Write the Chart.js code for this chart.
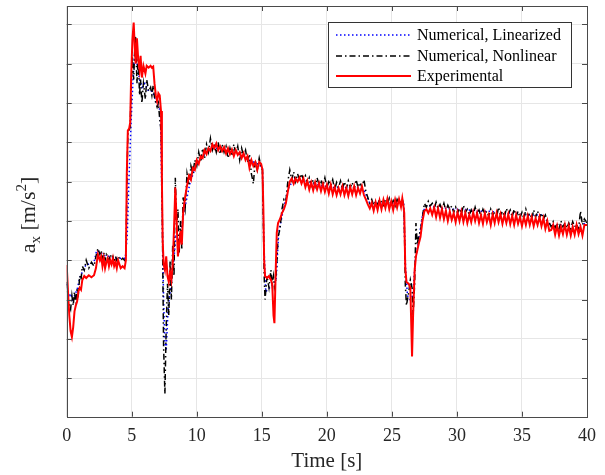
<!DOCTYPE html>
<html>
<head>
<meta charset="utf-8">
<script src="https://cdn.jsdelivr.net/npm/chart.js@4.4.0/dist/chart.umd.min.js"></script>
<style>
  html, body { margin: 0; padding: 0; background: #fff; }
  #wrap { width: 605px; height: 475px; }
</style>
</head>
<body>
<div id="wrap"><canvas id="chart" width="605" height="475"></canvas></div>
<script>
// time grid shared by the experimental and nonlinear runs [s]
const time = [
  0.00, 0.10, 0.20, 0.30, 0.40, 0.50, 0.60, 0.70, 0.80, 0.90,
  1.00, 1.10, 1.20, 1.35, 1.50, 1.70, 1.90, 2.10, 2.25, 2.40,
  2.55, 2.65, 2.75, 2.85, 2.95, 3.05, 3.15, 3.25, 3.35, 3.45,
  3.55, 3.65, 3.75, 3.85, 3.95, 4.05, 4.15, 4.30, 4.45, 4.55,
  4.62, 4.70, 4.80, 4.88, 4.95, 5.05, 5.15, 5.22, 5.30, 5.40,
  5.50, 5.60, 5.68, 5.78, 5.90, 6.05, 6.15, 6.30, 6.45, 6.55,
  6.65, 6.75, 6.85, 6.95, 7.05, 7.15, 7.25, 7.32, 7.38, 7.45,
  7.55, 7.65, 7.75, 7.85, 7.95, 8.05, 8.15, 8.25, 8.35, 8.45,
  8.55, 8.65, 8.75, 8.85, 8.95, 9.10, 9.25, 9.40, 9.55, 9.70,
  9.85, 10.00, 10.15, 10.30, 10.45, 10.60, 10.75, 10.90, 11.05, 11.20,
  11.35, 11.50, 11.65, 11.80, 11.95, 12.10, 12.25, 12.40, 12.55, 12.70,
  12.85, 13.00, 13.15, 13.30, 13.45, 13.60, 13.75, 13.90, 14.05, 14.20,
  14.35, 14.50, 14.65, 14.80, 14.95, 15.05, 15.12, 15.18, 15.25, 15.40,
  15.55, 15.70, 15.80, 15.90, 15.97, 16.05, 16.15, 16.25, 16.40, 16.55,
  16.70, 16.85, 17.00, 17.15, 17.30, 17.45, 17.60, 17.75, 17.90, 18.05,
  18.20, 18.35, 18.50, 18.65, 18.80, 18.95, 19.10, 19.25, 19.40, 19.55,
  19.70, 19.85, 20.00, 20.15, 20.30, 20.45, 20.60, 20.75, 20.90, 21.05,
  21.20, 21.35, 21.50, 21.65, 21.80, 21.95, 22.10, 22.25, 22.40, 22.55,
  22.70, 22.85, 23.00, 23.15, 23.30, 23.45, 23.60, 23.75, 23.90, 24.05,
  24.20, 24.35, 24.50, 24.65, 24.80, 24.95, 25.10, 25.25, 25.40, 25.55,
  25.70, 25.80, 25.88, 25.95, 26.03, 26.12, 26.30, 26.42, 26.55, 26.63,
  26.75, 26.85, 26.95, 27.05, 27.20, 27.35, 27.50, 27.65, 27.80, 27.95,
  28.10, 28.25, 28.40, 28.55, 28.70, 28.85, 29.00, 29.15, 29.30, 29.45,
  29.60, 29.75, 29.90, 30.05, 30.20, 30.35, 30.50, 30.65, 30.80, 30.95,
  31.10, 31.25, 31.40, 31.55, 31.70, 31.85, 32.00, 32.15, 32.30, 32.45,
  32.60, 32.75, 32.90, 33.05, 33.20, 33.35, 33.50, 33.65, 33.80, 33.95,
  34.10, 34.25, 34.40, 34.55, 34.70, 34.85, 35.00, 35.15, 35.30, 35.45,
  35.60, 35.75, 35.90, 36.05, 36.20, 36.35, 36.50, 36.65, 36.80, 36.95,
  37.10, 37.25, 37.40, 37.55, 37.70, 37.85, 38.00, 38.15, 38.30, 38.45,
  38.60, 38.75, 38.90, 39.05, 39.20, 39.35, 39.50, 39.65, 39.80, 40.00
];

const accExp = [
  2.88, 2.20, 1.60, 1.20, 1.05, 1.30, 1.70, 1.85, 1.95, 2.20,
  2.30, 2.25, 2.50, 2.60, 2.55, 2.62, 2.57, 2.62, 2.80, 3.15,
  3.00, 3.10, 2.85, 3.05, 2.80, 2.95, 3.05, 2.85, 3.00, 2.90,
  3.05, 2.85, 2.95, 2.80, 3.00, 2.90, 2.80, 2.85, 2.80, 3.00,
  5.20, 6.30, 6.35, 6.50, 7.60, 8.60, 9.05, 8.50, 8.00, 8.65,
  8.10, 7.85, 8.20, 7.65, 7.95, 7.75, 7.95, 7.90, 7.95, 7.90,
  7.93, 7.50, 7.20, 7.05, 7.25, 7.20, 6.80, 5.00, 3.50, 2.90,
  2.75, 3.10, 2.60, 2.45, 2.70, 2.50, 2.90, 3.80, 4.85, 4.00,
  3.10, 3.40, 3.75, 3.40, 4.20, 4.60, 4.90, 5.15, 5.05, 5.35,
  5.30, 5.55, 5.45, 5.65, 5.60, 5.80, 5.70, 5.85, 5.78, 5.95,
  5.85, 5.97, 5.80, 5.90, 5.78, 5.88, 5.72, 5.85, 5.70, 5.82,
  5.65, 5.80, 5.68, 5.75, 5.60, 5.72, 5.55, 5.65, 5.35, 5.55,
  5.40, 5.50, 5.30, 5.50, 5.45, 5.30, 4.30, 3.00, 2.60, 2.55,
  2.60, 2.50, 2.40, 1.60, 1.40, 2.50, 3.70, 3.95, 4.05, 4.20,
  4.30, 4.45, 4.75, 5.00, 5.08, 4.95, 5.08, 5.00, 5.10, 4.95,
  5.08, 4.86, 5.02, 4.80, 4.98, 4.78, 4.98, 4.80, 4.96, 4.76,
  4.94, 4.74, 4.92, 4.70, 4.92, 4.68, 4.86, 4.66, 4.84, 4.68,
  4.88, 4.66, 4.84, 4.64, 4.86, 4.68, 4.88, 4.66, 4.84, 4.70,
  4.88, 4.66, 4.55, 4.42, 4.32, 4.46, 4.26, 4.48, 4.28, 4.52,
  4.30, 4.54, 4.33, 4.56, 4.30, 4.50, 4.28, 4.54, 4.34, 4.56,
  4.36, 4.58, 4.40, 4.20, 2.80, 2.45, 2.40, 2.30, 0.55, 1.60,
  2.75, 3.10, 3.25, 3.40, 3.60, 4.00, 4.25, 4.30, 4.20, 4.32,
  4.16, 4.34, 4.10, 4.32, 4.08, 4.30, 4.05, 4.26, 4.00, 4.24,
  4.03, 4.20, 3.97, 4.22, 4.00, 4.24, 3.98, 4.20, 3.95, 4.16,
  3.97, 4.22, 4.00, 4.20, 3.95, 4.15, 3.93, 4.20, 3.97, 4.15,
  3.90, 4.17, 3.95, 4.20, 3.97, 4.17, 3.93, 4.15, 3.95, 4.17,
  3.92, 4.13, 3.90, 4.15, 3.93, 4.10, 3.87, 4.10, 3.90, 4.13,
  3.90, 4.10, 3.87, 4.07, 3.90, 4.10, 3.87, 4.07, 3.80, 4.00,
  3.75, 3.77, 3.90, 3.65, 3.87, 3.63, 3.85, 3.67, 3.90, 3.65,
  3.87, 3.63, 3.85, 3.65, 3.90, 3.67, 3.85, 3.63, 3.90, 3.90
];

const accNonlin = [
  2.45, 2.00, 1.85, 1.75, 2.10, 1.85, 2.20, 1.90, 2.30, 2.15,
  2.60, 2.50, 2.85, 2.75, 3.00, 2.80, 2.95, 2.85, 3.10, 3.30,
  3.15, 3.25, 3.05, 3.20, 3.00, 3.15, 3.10, 3.00, 3.15, 3.05,
  3.10, 2.95, 3.10, 3.00, 3.10, 3.05, 3.00, 3.05, 3.00, 3.10,
  4.60, 6.20, 6.30, 6.40, 7.30, 8.20, 7.60, 8.30, 8.70, 7.50,
  8.20, 7.20, 7.60, 7.00, 7.50, 7.10, 7.60, 7.30, 7.40, 7.20,
  7.45, 7.15, 7.00, 6.90, 7.00, 6.60, 6.30, 5.50, 3.00, 0.80,
  -0.40, 1.30, 2.40, 1.60, 3.00, 2.00, 3.40, 2.60, 5.10, 3.90,
  4.30, 3.20, 4.00, 3.30, 4.60, 4.30, 5.20, 4.90, 5.40, 5.20,
  5.55, 5.40, 5.75, 5.50, 5.85, 5.60, 5.95, 5.75, 6.10, 5.80,
  5.95, 5.75, 6.00, 5.70, 5.95, 5.75, 5.90, 5.60, 5.85, 5.65,
  5.95, 5.70, 5.90, 5.55, 5.85, 5.65, 5.80, 5.50, 5.70, 5.20,
  4.95, 5.55, 5.30, 5.60, 5.35, 5.30, 4.00, 2.60, 2.00, 2.60,
  2.30, 2.75, 2.40, 2.60, 2.30, 2.40, 2.90, 3.60, 3.80, 4.30,
  4.55, 4.50, 5.00, 5.30, 5.05, 5.25, 5.00, 5.20, 5.05, 5.20,
  5.05, 5.15, 4.95, 5.10, 4.90, 5.05, 4.88, 5.10, 4.92, 5.05,
  4.88, 5.10, 4.85, 5.00, 4.90, 5.05, 4.80, 4.98, 4.85, 5.02,
  4.80, 5.00, 4.82, 5.02, 4.85, 4.98, 4.80, 5.05, 4.85, 4.98,
  4.85, 5.05, 4.75, 4.60, 4.45, 4.55, 4.40, 4.50, 4.42, 4.55,
  4.48, 4.40, 4.55, 4.42, 4.58, 4.40, 4.52, 4.38, 4.55, 4.45,
  4.50, 4.55, 4.45, 4.10, 2.40, 1.85, 2.20, 2.50, 2.30, 1.60,
  2.40, 3.95, 3.40, 3.60, 3.75, 4.10, 4.45, 4.35, 4.50, 4.38,
  4.45, 4.30, 4.48, 4.32, 4.42, 4.28, 4.45, 4.25, 4.40, 4.30,
  4.38, 4.22, 4.35, 4.20, 4.32, 4.18, 4.40, 4.22, 4.30, 4.15,
  4.28, 4.15, 4.35, 4.18, 4.28, 4.12, 4.30, 4.18, 4.25, 4.12,
  4.30, 4.15, 4.22, 4.10, 4.35, 4.15, 4.25, 4.10, 4.32, 4.18,
  4.28, 4.10, 4.30, 4.12, 4.25, 4.08, 4.22, 4.05, 4.30, 4.12,
  4.20, 4.05, 4.28, 4.10, 4.25, 4.08, 4.20, 4.05, 4.15, 4.00,
  3.95, 3.85, 3.98, 3.82, 3.95, 3.80, 4.00, 3.85, 3.95, 3.82,
  3.95, 3.80, 3.98, 3.85, 3.92, 3.80, 4.25, 3.90, 4.05, 3.95
];

// linearized model, coarser grid
const timeLin = [
  0.00, 0.15, 0.30, 0.45, 0.60, 0.80, 1.00, 1.20, 1.50, 1.80,
  2.10, 2.30, 2.60, 3.00, 3.40, 3.80, 4.20, 4.50, 4.65, 4.80,
  4.95, 5.10, 5.25, 5.40, 5.60, 5.80, 6.00, 6.30, 6.60, 6.90,
  7.20, 7.35, 7.45, 7.55, 7.65, 7.80, 8.00, 8.20, 8.40, 8.70,
  9.00, 9.50, 10.0, 11.0, 12.0, 13.0, 14.0, 14.7, 15.05, 15.15,
  15.30, 15.60, 15.90, 16.10, 16.30, 16.60, 17.0, 17.5, 18.5, 19.5,
  20.5, 21.5, 22.5, 22.9, 23.3, 24.0, 25.0, 25.9, 26.05, 26.2,
  26.4, 26.6, 26.8, 27.1, 27.4, 27.7, 28.5, 29.5, 30.5, 31.5,
  32.5, 33.5, 34.5, 35.5, 36.5, 37.2, 38.0, 39.0, 40.0
];
const accLin = [
  2.40, 2.05, 2.15, 2.00, 2.10, 2.25, 2.55, 2.70, 2.90, 2.90,
  2.95, 3.25, 3.20, 3.10, 3.10, 3.05, 3.05, 3.05, 3.60, 5.20,
  6.50, 7.60, 8.40, 8.00, 7.60, 7.40, 7.50, 7.30, 7.30, 7.00,
  6.80, 4.00, 2.00, 0.90, 0.70, 1.80, 2.30, 2.90, 3.60, 3.50,
  4.20, 5.00, 5.45, 5.85, 5.85, 5.75, 5.55, 5.45, 5.35, 3.50,
  2.20, 2.30, 2.40, 2.50, 3.70, 4.20, 4.80, 5.10, 5.00, 4.90,
  4.85, 4.85, 4.85, 4.75, 4.45, 4.45, 4.45, 4.45, 2.80, 2.10,
  2.00, 2.10, 3.00, 3.60, 4.25, 4.40, 4.35, 4.30, 4.30, 4.25,
  4.25, 4.20, 4.20, 4.15, 4.15, 3.90, 3.90, 3.85, 3.95
];

const seriesNames = ['Numerical, Linearized', 'Numerical, Nonlinear', 'Experimental'];
const xTitle = 'Time [s]';

function toPoints(ts, vs) {
  return ts.map((t, i) => ({ x: t, y: vs[i] }));
}

const serif = '"Liberation Serif", "Times New Roman", serif';
const axisColor = '#4a4a4a';

// box, inward ticks, legend and y label, drawn MATLAB style
const matlabAxes = {
  id: 'matlabAxes',
  afterDatasetsDraw(chart) {
    const { ctx, chartArea: a, scales } = chart;
    ctx.save();
    ctx.strokeStyle = axisColor;
    ctx.lineWidth = 1;
    ctx.beginPath();
    scales.x.ticks.forEach(t => {
      const px = Math.round(scales.x.getPixelForValue(t.value)) + 0.5;
      ctx.moveTo(px, a.bottom); ctx.lineTo(px, a.bottom - 5);
      ctx.moveTo(px, a.top); ctx.lineTo(px, a.top + 5);
    });
    scales.y.ticks.forEach(t => {
      const py = Math.round(scales.y.getPixelForValue(t.value)) + 0.5;
      ctx.moveTo(a.left, py); ctx.lineTo(a.left + 5, py);
      ctx.moveTo(a.right, py); ctx.lineTo(a.right - 5, py);
    });
    ctx.stroke();
    ctx.strokeRect(Math.round(a.left) + 0.5, Math.round(a.top) + 0.5,
      Math.round(a.right - a.left), Math.round(a.bottom - a.top));
    ctx.restore();
  },
  afterDraw(chart) {
    const ctx = chart.ctx;
    const ds = chart.data.datasets;

    // legend
    ctx.save();
    ctx.fillStyle = '#fff';
    ctx.fillRect(328.5, 22.5, 243, 65);
    ctx.strokeStyle = '#333';
    ctx.lineWidth = 1;
    ctx.strokeRect(328.5, 22.5, 243, 65);
    const rows = [35, 56, 76];
    ds.forEach((d, i) => {
      ctx.beginPath();
      ctx.strokeStyle = d.borderColor;
      ctx.lineWidth = d.borderWidth;
      ctx.setLineDash(d.borderDash || []);
      ctx.moveTo(336, rows[i]);
      ctx.lineTo(411, rows[i]);
      ctx.stroke();
      ctx.setLineDash([]);
      ctx.fillStyle = '#000';
      ctx.font = '16px ' + serif;
      ctx.textBaseline = 'middle';
      ctx.fillText(d.label, 417, rows[i] + 1);
    });
    ctx.restore();

    // y axis label: a_x [m/s^2]
    const parts = [
      { t: 'a', f: '22px ' + serif, dy: 0 },
      { t: 'x', f: '15px ' + serif, dy: 5 },
      { t: ' [m/s', f: '22px ' + serif, dy: 0 },
      { t: '2', f: '15px ' + serif, dy: -9 },
      { t: ']', f: '22px ' + serif, dy: 0 }
    ];
    ctx.save();
    ctx.translate(35, 215);
    ctx.rotate(-Math.PI / 2);
    ctx.fillStyle = '#262626';
    ctx.textBaseline = 'alphabetic';
    let w = 0;
    parts.forEach(p => { ctx.font = p.f; w += ctx.measureText(p.t).width; });
    let x = -w / 2;
    parts.forEach(p => {
      ctx.font = p.f;
      ctx.fillText(p.t, x, p.dy);
      x += ctx.measureText(p.t).width;
    });
    ctx.restore();
  }
};

const ctx = document.getElementById('chart');

new Chart(ctx, {
  type: 'line',
  data: {
    datasets: [{
      label: seriesNames[0],
      data: toPoints(timeLin, accLin),
      borderColor: '#0000ff',
      borderWidth: 1.5,
      borderDash: [1.5, 2.5],
      order: 3
    }, {
      label: seriesNames[1],
      data: toPoints(time, accNonlin),
      borderColor: '#000000',
      borderWidth: 1.5,
      borderDash: [6, 3, 1.5, 3],
      order: 2
    }, {
      label: seriesNames[2],
      data: toPoints(time, accExp),
      borderColor: '#ff0000',
      borderWidth: 2,
      order: 1
    }]
  },
  options: {
    responsive: false,
    animation: false,
    devicePixelRatio: 1,
    layout: { padding: { top: 6, right: 17, left: 0, bottom: 0 } },
    elements: {
      point: { radius: 0 },
      line: { tension: 0, fill: false }
    },
    plugins: {
      legend: { display: false },
      tooltip: { enabled: false }
    },
    scales: {
      x: {
        type: 'linear',
        min: 0,
        max: 40,
        afterFit(s) { s.height = 58.3; },
        ticks: {
          stepSize: 5,
          padding: 9,
          color: '#262626',
          font: { family: serif, size: 18 },
          maxRotation: 0
        },
        grid: { color: '#e6e6e6', drawTicks: false },
        border: { display: false },
        title: {
          display: true,
          text: xTitle,
          color: '#262626',
          font: { family: serif, size: 21 },
          padding: { top: 0, bottom: 1 }
        }
      },
      y: {
        min: -0.98,
        max: 9.47,
        afterFit(s) { s.width = 66.7; },
        ticks: { stepSize: 1, includeBounds: false, display: false },
        grid: { color: '#e6e6e6', drawTicks: false },
        border: { display: false }
      }
    }
  },
  plugins: [matlabAxes]
});
</script>
</body>
</html>
